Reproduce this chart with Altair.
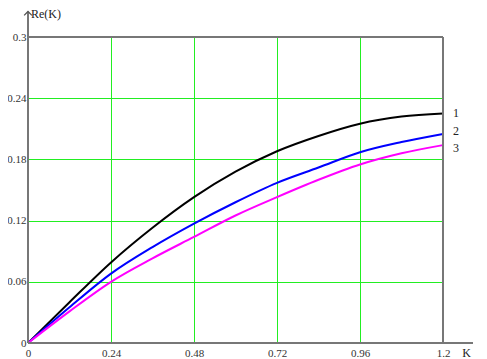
import altair as alt
import pandas as pd

K = [0, 0.12, 0.24, 0.36, 0.48, 0.6, 0.72, 0.84, 0.96, 1.08, 1.2]
re1 = [0, 0.040, 0.079, 0.113, 0.143, 0.168, 0.188, 0.203, 0.215, 0.222, 0.225]
re2 = [0, 0.035, 0.068, 0.094, 0.117, 0.138, 0.157, 0.172, 0.187, 0.197, 0.205]
re3 = [0, 0.031, 0.060, 0.083, 0.104, 0.125, 0.143, 0.160, 0.175, 0.186, 0.194]
series = ["1", "2", "3"]
colors = ["#000000", "#0000ff", "#ff00ff"]
x_ticks = [0, 0.24, 0.48, 0.72, 0.96, 1.2]
y_ticks = [0, 0.06, 0.12, 0.18, 0.24, 0.3]

rows = []
for s, vals in zip(series, [re1, re2, re3]):
    for k, v in zip(K, vals):
        rows.append({"K": k, "Re": v, "s": s})
df = pd.DataFrame(rows)

FONT = "Liberation Serif"
xs = alt.Scale(domain=[0, 1.2], nice=False, zero=False)
ys = alt.Scale(domain=[0, 0.3], nice=False, zero=False)
cs = alt.Scale(domain=series, range=colors)

ax_x = alt.Axis(values=x_ticks, format=".2~f", title=None,
                grid=True, gridColor="#22ee22", gridWidth=1, gridOpacity=1, domain=False,
                ticks=False, labelFont=FONT, labelFontSize=11, labelColor="#333333",
                labelPadding=4, labelFlush=False)
ax_y = alt.Axis(values=y_ticks, format=".2~f", title=None,
                grid=True, gridColor="#22ee22", gridWidth=1, gridOpacity=1, domain=False,
                ticks=False, labelFont=FONT, labelFontSize=11, labelColor="#333333",
                labelPadding=2, labelFlush=False)

def X(f):
    return alt.X(f, scale=xs, axis=ax_x, title=None)

def Y(f):
    return alt.Y(f, scale=ys, axis=ax_y, title=None)

lines = alt.Chart(df).mark_line(strokeWidth=2, interpolate="monotone").encode(
    x=X("K:Q"), y=Y("Re:Q"),
    color=alt.Color("s:N", scale=cs, legend=None),
)

# frame / axes
frame = pd.DataFrame([
    {"x": 0, "y": 0, "x2": 1.32, "y2": 0},
    {"x": 0, "y": 0, "x2": 0, "y2": 0.325},
    {"x": 0, "y": 0.3, "x2": 1.2, "y2": 0.3},
    {"x": 1.2, "y": 0, "x2": 1.2, "y2": 0.3},
])
rules = alt.Chart(frame).mark_rule(color="#777777", strokeWidth=2).encode(
    x=X("x:Q"), y=Y("y:Q"), x2="x2:Q", y2="y2:Q")

arrows = pd.DataFrame([{"x": 1.32, "y": 0, "a": 90}, {"x": 0, "y": 0.325, "a": 0}])
arrow = alt.Chart(arrows).mark_point(shape="M-1,1L0,0L1,1", filled=False, size=60,
                                     color="#555555", strokeWidth=1.3, opacity=1).encode(
    x=X("x:Q"), y=Y("y:Q"), angle=alt.Angle("a:Q", scale=None))

titles = pd.DataFrame([{"x": 0.0, "y": 0.3284, "t": "Re(K)"}])
ttl1 = alt.Chart(titles).mark_text(font=FONT, fontSize=12, align="left", baseline="top",
                                   dx=3, dy=1, color="#222222").encode(
    x=X("x:Q"), y=Y("y:Q"), text="t:N")
titles2 = pd.DataFrame([{"x": 1.268, "y": -0.0095, "t": "K"}])
ttl2 = alt.Chart(titles2).mark_text(font=FONT, fontSize=12, align="center", color="#222222").encode(
    x=X("x:Q"), y=Y("y:Q"), text="t:N")

last = df[df.K == 1.2]
dys = [-1, -3, 3]
labels = []
for s, dy in zip(series, dys):
    labels.append(alt.Chart(last[last.s == s]).mark_text(font=FONT, fontSize=12, dx=13, dy=dy,
                                                         color="#222222").encode(
        x=X("K:Q"), y=Y("Re:Q"), text="s:N"))

chart = alt.layer(lines, rules, arrow, ttl1, ttl2, *labels).properties(
    width=415, height=306,
    autosize=alt.AutoSizeParams(type="none"),
    padding={"left": 20, "top": 29, "right": 30, "bottom": 20},
).configure_view(stroke=None).configure(background="white").configure_axis(
    labelFont=FONT, labelFontSize=11)

chart.save("out.html", embed_options={"renderer": "svg", "actions": False})
